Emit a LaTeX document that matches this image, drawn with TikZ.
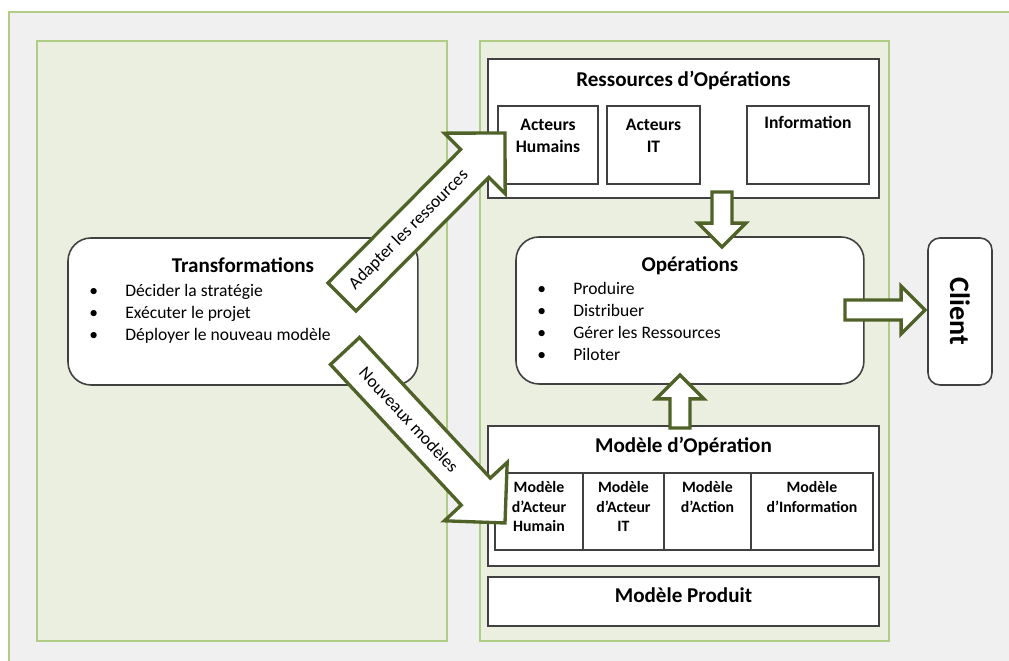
\documentclass[tikz,border=0pt]{standalone}
\usepackage{fontspec}
\setmainfont{Carlito}
\usetikzlibrary{positioning, calc}

\definecolor{pagegray}{HTML}{F0F0F0}
\definecolor{panelgreen}{HTML}{EBEFDF}
\definecolor{panelline}{HTML}{B0CD86}
\definecolor{boxline}{HTML}{404040}
\definecolor{arrowgreen}{HTML}{4F6228}

\newcommand{\lignes}[1]{\begin{tabular}[t]{@{}c@{}}#1\end{tabular}}
\newcommand{\puces}[1]{\begin{tabular}[t]{@{}p{20.5pt}@{}l@{}}#1\end{tabular}}

\tikzset{
arrshaft/.store in=\arrshaft,
arrhead/.store in=\arrhead,
arrlen/.store in=\arrlen,
arrshaft=5.7pt, arrhead=13.6pt, arrlen=13.6pt
}

\begin{document}
\begin{tikzpicture}[
x=0.02cm, y=-0.02cm,
every node/.style={font=\fontsize{10}{12.5}\selectfont, text=black},
panel/.style={
draw=panelline,
fill=panelgreen,
line width=1.1pt,
anchor=north west,
outer sep=0pt,
minimum height=12cm
},
box/.style={
draw=boxline,
fill=white,
line width=0.9pt,
anchor=north west,
inner sep=0pt,
outer sep=0pt
},
roundbox/.style={
box,
rounded corners=0.46cm,
minimum height=2.94cm
},
title/.style={font=\fontsize{12}{14.6}\selectfont\bfseries, anchor=base, inner sep=0pt},
boxtext/.style={font=\fontsize{10}{12.5}\selectfont\bfseries, anchor=base, inner sep=0pt},
modeltext/.style={font=\fontsize{9}{11}\selectfont\bfseries, anchor=base, inner sep=0pt},
listtext/.style={anchor=base west, inner sep=0pt},
arrowtext/.style={font=\fontsize{10}{12.2}\selectfont, inner sep=0pt},
fatarrow/.style={
draw=arrowgreen,
fill=white,
line width=1.9pt,
to path={
($(\tikztotarget)!\arrlen!(\tikztostart)$) coordinate (hb)
($(\tikztostart)!\arrshaft!90:(\tikztotarget)$)
-- ($(hb)!\arrshaft!-90:(\tikztostart)$)
-- ($(hb)!\arrhead!-90:(\tikztostart)$)
-- (\tikztotarget)
-- ($(hb)!\arrhead!90:(\tikztostart)$)
-- ($(hb)!\arrshaft!90:(\tikztostart)$)
-- ($(\tikztostart)!\arrshaft!-90:(\tikztotarget)$)
-- cycle}
}
]

\useasboundingbox (0,0) rectangle (1009,661);

% Background
\fill[pagegray] (9,12) rectangle (1009,661);
\draw[panelline, line width=1.1pt] (9,661) -- (9,12) -- (1009,12);

% Panels
\node[panel, minimum width=8.2cm] (leftpanel) at (37,41) {};
\node[panel, minimum width=8.18cm] (rightpanel) at (480,41) {};

% Ressources
\node[box, minimum width=7.82cm, minimum height=2.78cm] (ressources) at (488,59) {};
\node[title] at ([yshift=-0.56cm]ressources.north) {Ressources d’Opérations};

\node[box, minimum width=2cm, minimum height=1.56cm] (humains) at (498,106) {};
\node[box, minimum width=1.86cm, minimum height=1.56cm, right=0.18cm of humains] (actit) {};
\node[box, minimum width=2.44cm, minimum height=1.56cm, right=0.94cm of actit] (info) {};

\node[boxtext] at ([yshift=-0.5cm]humains.north) {\lignes{Acteurs\\Humains}};
\node[boxtext] at ([yshift=-0.5cm]actit.north) {\lignes{Acteurs\\IT}};
\node[boxtext] at ([yshift=-0.46cm]info.north) {Information};

% Transformations
\node[roundbox, minimum width=7cm] (transf) at (68,238) {};
\node[title] at ([yshift=-0.7cm]transf.north) {Transformations};
\node[listtext] at ([shift={(21,59)}]transf.north west)
{\puces{\textbullet & Décider la stratégie\\
\textbullet & Exécuter le projet\\
\textbullet & Déployer le nouveau modèle}};

% Operations
\node[roundbox, minimum width=6.96cm] (ops) at (516,237) {};
\node[title] at ([yshift=-0.7cm]ops.north) {Opérations};
\node[listtext] at ([shift={(21,58)}]ops.north west)
{\puces{\textbullet & Produire\\
\textbullet & Distribuer\\
\textbullet & Gérer les Ressources\\
\textbullet & Piloter}};

% Client
\node[roundbox, rounded corners=0.24cm, minimum width=1.28cm] (client) at (928,238) {};
\node[font=\fontsize{16}{19}\selectfont\bfseries, rotate=-90] at (client.center) {Client};

% Modele d'operation
\node[box, minimum width=7.82cm, minimum height=2.8cm] (modop) at (488,426) {};
\node[title] at ([yshift=-0.54cm]modop.north) {Modèle d’Opération};

\node[box, minimum width=1.76cm, minimum height=1.54cm] (mhumain) at (495,473) {};
\node[box, minimum width=1.62cm, minimum height=1.54cm, right=0pt of mhumain] (mit) {};
\node[box, minimum width=1.74cm, minimum height=1.54cm, right=0pt of mit] (maction) {};
\node[box, minimum width=2.44cm, minimum height=1.54cm, right=0pt of maction] (minfo) {};

\node[modeltext] at ([yshift=-0.4cm]mhumain.north) {\lignes{Modèle\\d’Acteur\\Humain}};
\node[modeltext] at ([yshift=-0.4cm]mit.north) {\lignes{Modèle\\d’Acteur\\IT}};
\node[modeltext] at ([yshift=-0.4cm]maction.north) {\lignes{Modèle\\d’Action}};
\node[modeltext] at ([yshift=-0.4cm]minfo.north) {\lignes{Modèle\\d’Information}};

% Modele produit
\node[box, minimum width=7.82cm, minimum height=0.98cm] (produit) at (488,577) {};
\node[title] at ([yshift=-0.52cm]produit.north) {Modèle Produit};

% Block arrows
\coordinate (adapt0) at (342,297);
\coordinate (adapt1) at (505,133);
\coordinate (nouv0) at (345,351);
\coordinate (nouv1) at (505,523);
\coordinate (down0) at (722,192);
\coordinate (down1) at (722,247);
\coordinate (up0) at (680,428);
\coordinate (up1) at (680,375);
\coordinate (right0) at (845,310);
\coordinate (right1) at (925,310);

\draw[fatarrow] (down0) to (down1);
\draw[fatarrow] (up0) to (up1);
\draw[fatarrow] (right0) to (right1);

\draw[fatarrow, arrshaft=11.3pt, arrhead=24.4pt, arrlen=24.4pt] (adapt0) to (adapt1);
\path (adapt0) -- (adapt1) node[arrowtext, pos=0.41, sloped] {Adapter les ressources};

\draw[fatarrow, arrshaft=11.3pt, arrhead=24.4pt, arrlen=24.4pt] (nouv0) to (nouv1);
\path (nouv0) -- (nouv1) node[arrowtext, pos=0.4, sloped] {Nouveaux modèles};

\end{tikzpicture}
\end{document}
